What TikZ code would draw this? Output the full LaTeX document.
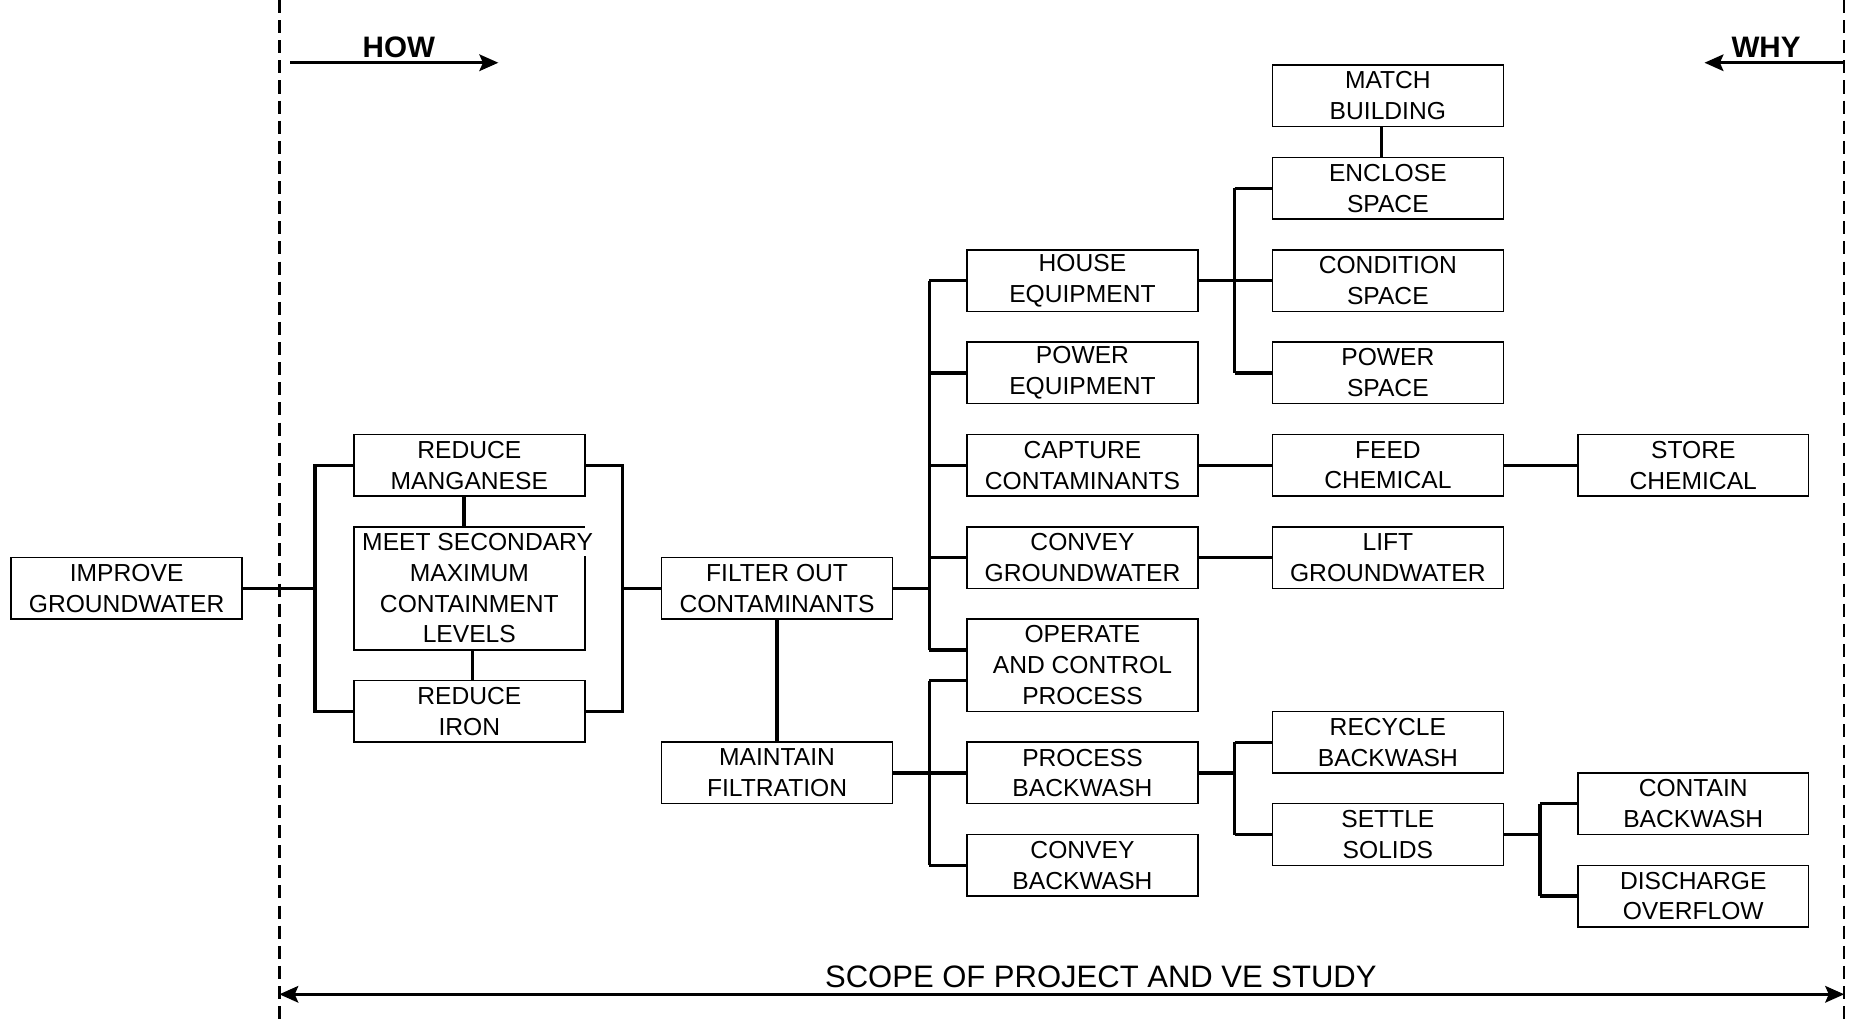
\documentclass[tikz,border=0pt]{standalone}
\usepackage{fontspec}
\setmainfont{Liberation Sans}
\usetikzlibrary{arrows.meta}
\begin{document}
\begin{tikzpicture}[x=1pt,y=-1pt,
  fn/.style={draw, line width=1.3pt, minimum width=195pt, minimum height=52pt,
    inner sep=0pt, align=center, font=\fontsize{20.8}{26}\selectfont},
  conn/.style={line width=2.8pt, line join=miter},
  scope/.style={line width=2pt, dash pattern=on 11pt off 6pt},
  tip/.tip={Stealth[length=16pt,width=14pt,inset=3pt]},
  dir/.style={line width=2.4pt, -tip},
  lbl/.style={font=\fontsize{25}{30}\selectfont\bfseries, inner sep=0pt},
  note/.style={font=\fontsize{26.2}{30}\selectfont, inner sep=0pt}]
\useasboundingbox (0,0) rectangle (1568,865);
\fill[white] (0,0) rectangle (1568,865);

% scope limits
\draw[scope] (236,0) -- (236,865);
\draw[scope] (1558,0) -- (1558,865);

% HOW / WHY direction arrows
\coordinate (howA) at (245,53);
\coordinate (howB) at (421,53);
\coordinate (whyA) at (1558,53);
\coordinate (whyB) at (1440,53);
\draw[dir] (howA) -- (howB);
\draw[dir] (whyA) -- (whyB);
\node[lbl] (how) at (337,40) {HOW};
\node[lbl] (why) at (1492,40) {WHY};

% scope arrow
\coordinate (scA) at (236,840);
\coordinate (scB) at (1558,840);
\draw[line width=2.4pt, tip-tip] (scA) -- (scB);
\node[note] (scopetxt) at (930,825) {SCOPE OF PROJECT AND VE STUDY};

% function boxes
\node[fn] (improve) at (107,497) {IMPROVE\\GROUNDWATER};

\node[fn] (mang) at (396.5,393) {REDUCE\\MANGANESE};
\node[fn, draw=none, minimum height=104pt] (meet) at (396.5,497) {\hspace*{14pt}MEET SECONDARY\\MAXIMUM\\CONTAINMENT\\LEVELS};
\draw[line width=1.3pt] (494,470) -- (494,549) -- (299,549) -- (299,445) -- (494,445);
\node[fn] (iron) at (396.5,601) {REDUCE\\IRON};

\node[fn] (filter) at (656.5,497) {FILTER OUT\\CONTAMINANTS};
\node[fn] (maintain) at (656.5,653) {MAINTAIN\\FILTRATION};

\node[fn] (house) at (914.5,237) {HOUSE\\EQUIPMENT};
\node[fn] (poweq) at (914.5,315) {POWER\\EQUIPMENT};
\node[fn] (capture) at (914.5,393) {CAPTURE\\CONTAMINANTS};
\node[fn] (convgw) at (914.5,471) {CONVEY\\GROUNDWATER};
\node[fn, minimum height=78pt] (operate) at (914.5,562) {OPERATE\\AND CONTROL\\PROCESS};
\node[fn] (procbw) at (914.5,653) {PROCESS\\BACKWASH};
\node[fn] (convbw) at (914.5,731) {CONVEY\\BACKWASH};

\node[fn] (match) at (1172.5,81) {MATCH\\BUILDING};
\node[fn] (enclose) at (1172.5,159) {ENCLOSE\\SPACE};
\node[fn] (condition) at (1172.5,237) {CONDITION\\SPACE};
\node[fn] (powsp) at (1172.5,315) {POWER\\SPACE};
\node[fn] (feed) at (1172.5,393) {FEED\\CHEMICAL};
\node[fn] (lift) at (1172.5,471) {LIFT\\GROUNDWATER};
\node[fn] (recycle) at (1172.5,627) {RECYCLE\\BACKWASH};
\node[fn] (settle) at (1172.5,705) {SETTLE\\SOLIDS};

\node[fn] (store) at (1430.5,393) {STORE\\CHEMICAL};
\node[fn] (contain) at (1430.5,679) {CONTAIN\\BACKWASH};
\node[fn] (discharge) at (1430.5,757) {DISCHARGE\\OVERFLOW};

% bus positions
\coordinate (b2l) at (266,0);
\coordinate (b2r) at (526,0);
\coordinate (b4) at (785,0);
\coordinate (b5) at (1043,0);
\coordinate (b6) at (1301,0);

% column 2 brackets
\draw[conn] (mang.west) -- (mang.west -| b2l) -- (iron.west -| b2l) -- (iron.west);
\draw[conn] (improve.east) -- (improve.east -| b2l);
\draw[conn] (mang.east) -- (mang.east -| b2r) -- (iron.east -| b2r) -- (iron.east);
\draw[conn] (filter.west) -- (filter.west -| b2r);
\draw[conn] ([xshift=-4.5pt]mang.south) -- ([xshift=-4.5pt]meet.north);
\draw[conn] ([xshift=2.5pt]meet.south) -- ([xshift=2.5pt]iron.north);

% filter / maintain
\draw[conn] (filter.south) -- (maintain.north);

% column 4 upper bus
\draw[conn] (house.west -| b4) -- ([yshift=13pt]operate.west -| b4);
\draw[conn] (filter.east) -- (filter.east -| b4);
\foreach \n in {house,poweq,capture,convgw}
  \draw[conn] (\n.west -| b4) -- (\n.west);
\draw[conn] ([yshift=13pt]operate.west -| b4) -- ([yshift=13pt]operate.west);

% column 4 lower bus
\draw[conn] ([yshift=-13pt]operate.west -| b4) -- (convbw.west -| b4);
\draw[conn] ([yshift=-13pt]operate.west -| b4) -- ([yshift=-13pt]operate.west);
\draw[conn] (maintain.east) -- (maintain.east -| b4);
\foreach \n in {procbw,convbw}
  \draw[conn] (\n.west -| b4) -- (\n.west);

% column 5 buses
\draw[conn] (enclose.west -| b5) -- (powsp.west -| b5);
\draw[conn] (house.east) -- (house.east -| b5);
\foreach \n in {enclose,condition,powsp}
  \draw[conn] (\n.west -| b5) -- (\n.west);
\draw[conn] ([xshift=-5.5pt]match.south) -- ([xshift=-5.5pt]enclose.north);
\draw[conn] (capture.east) -- (feed.west);
\draw[conn] (feed.east) -- (store.west);
\draw[conn] (convgw.east) -- (lift.west);
\draw[conn] (recycle.west -| b5) -- (settle.west -| b5);
\draw[conn] (procbw.east) -- (procbw.east -| b5);
\foreach \n in {recycle,settle}
  \draw[conn] (\n.west -| b5) -- (\n.west);

% column 6 bus
\draw[conn] (contain.west -| b6) -- (discharge.west -| b6);
\draw[conn] (settle.east) -- (settle.east -| b6);
\foreach \n in {contain,discharge}
  \draw[conn] (\n.west -| b6) -- (\n.west);
\end{tikzpicture}
\end{document}
